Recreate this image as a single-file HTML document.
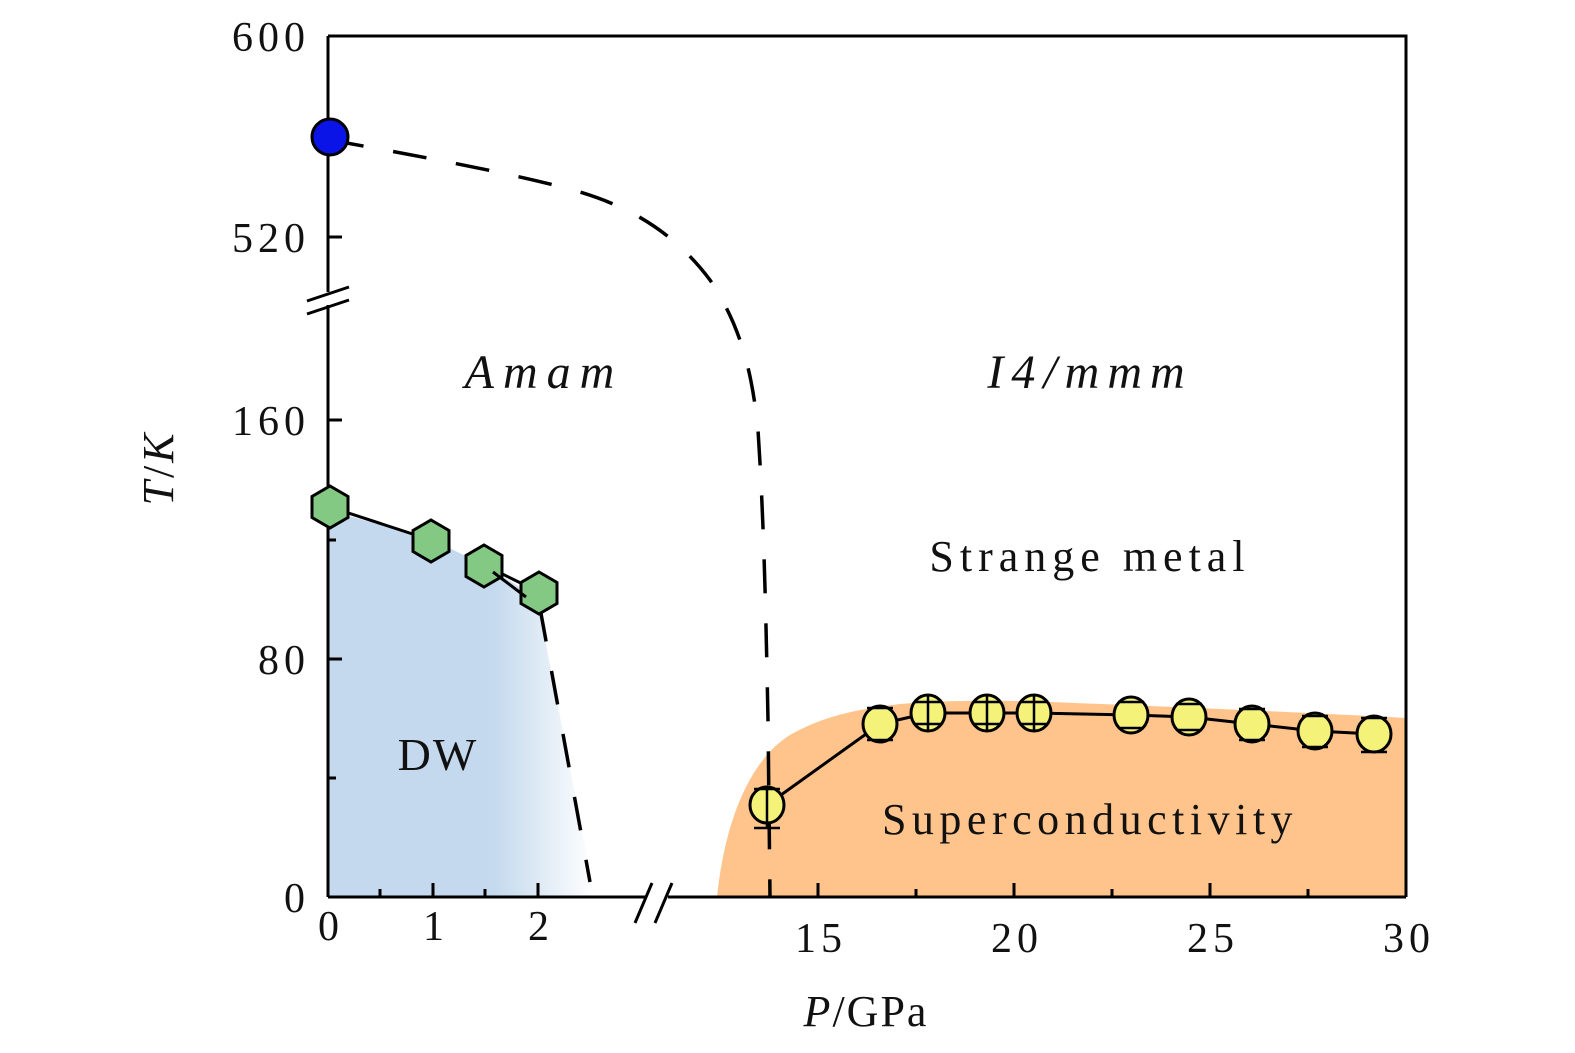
<!DOCTYPE html>
<html><head><meta charset="utf-8"><style>
html,body{margin:0;padding:0;background:#fff}
svg{display:block}
text{font-family:"Liberation Serif","DejaVu Serif",serif;fill:#111}
</style></head><body>
<svg width="1575" height="1053" viewBox="0 0 1575 1053" xmlns="http://www.w3.org/2000/svg">
<defs>
<linearGradient id="bg" x1="328" y1="0" x2="595" y2="0" gradientUnits="userSpaceOnUse">
<stop offset="0" stop-color="#c4d9ed"/><stop offset="0.62" stop-color="#c4d9ed"/><stop offset="1" stop-color="#ffffff"/>
</linearGradient>
</defs>
<path d="M328,897 L328,510 L433,540 L486,566 L537,598 L595,897 Z" fill="url(#bg)"/>
<path d="M717,897 C725,820 750,760 790,735 C820,718 850,710 900,704 C950,700 1000,700 1050,702 C1150,706 1300,712 1406,718 L1406,897 Z" fill="#fec48b"/>
<path d="M330,140 C430,158 520,175 580,192 C640,210 680,240 710,280 C740,325 752,370 758,430 C764,520 766,620 768,720 L770,897" fill="none" stroke="#000" stroke-width="3.5" stroke-dasharray="34,30"/>
<path d="M540,608 L590,882" fill="none" stroke="#000" stroke-width="3.5" stroke-dasharray="34,30"/>
<polyline points="330,507 431,540" fill="none" stroke="#000" stroke-width="3"/>
<polyline points="484,565 537,591" fill="none" stroke="#000" stroke-width="3"/>
<polyline points="767,805 880,724 928,713 987,713 1034,713 1131,715 1189,717 1252,724 1315,731 1374,734" fill="none" stroke="#000" stroke-width="3"/>
<g stroke="#000" stroke-width="3" fill="none">
<path d="M328,36 L1406,36 L1406,897"/>
<path d="M328,36 L328,292 M328,305 L328,897"/>
<path d="M328,897 L645,897 M668,897 L1406,897"/>
<path d="M307,301 L349,287 M307,314 L349,300"/>
<path d="M635,923 L652,883 M655,923 L672,883"/>
<path d="M328,237 L342,237 M328,420 L342,420 M328,540 L336,540 M328,659 L342,659 M328,778 L336,778"/>
<path d="M380,897 L380,889 M433,897 L433,883 M485,897 L485,889 M538,897 L538,883 M818,897 L818,883 M916,897 L916,889 M1014,897 L1014,883 M1112,897 L1112,889 M1210,897 L1210,883 M1308,897 L1308,889"/>
</g>
<circle cx="330" cy="137" r="18" fill="#0a14e6" stroke="#000" stroke-width="3"/>
<g fill="#84c983" stroke="#000" stroke-width="3">
<polygon points="330,486 348,496.5 348,517.5 330,528 312,517.5 312,496.5"/>
<polygon points="431,520 449,530.5 449,551.5 431,562 413,551.5 413,530.5"/>
<polygon points="484,545 502,555.5 502,576.5 484,587 466,576.5 466,555.5"/>
<polygon points="539,572 557,582.5 557,603.5 539,614 521,603.5 521,582.5"/>
</g>
<polyline points="493,572 526,597" fill="none" stroke="#000" stroke-width="3"/>
<g fill="#f5f27a" stroke="#000" stroke-width="3">
<ellipse cx="767" cy="805" rx="17" ry="18"/>
<ellipse cx="880" cy="724" rx="17" ry="18"/>
<ellipse cx="928" cy="713" rx="17" ry="18"/>
<ellipse cx="987" cy="713" rx="17" ry="18"/>
<ellipse cx="1034" cy="713" rx="17" ry="18"/>
<ellipse cx="1131" cy="715" rx="17" ry="18"/>
<ellipse cx="1189" cy="717" rx="17" ry="18"/>
<ellipse cx="1252" cy="724" rx="17" ry="18"/>
<ellipse cx="1315" cy="731" rx="17" ry="18"/>
<ellipse cx="1374" cy="734" rx="17" ry="18"/>
</g>
<g stroke="#000" stroke-width="2.5">
<path d="M754,789 L780,789 M754,828 L780,828 M767,789 L767,828"/>
<path d="M915,702 L941,702 M915,724 L941,724 M928,695 L928,731 M974,702 L1000,702 M974,724 L1000,724 M987,695 L987,731 M1021,702 L1047,702 M1021,724 L1047,724 M1034,695 L1034,731"/>
<path d="M867,708 L893,708 M867,740 L893,740 M1118,702 L1144,702 M1118,728 L1144,728 M1176,704 L1202,704 M1176,730 L1202,730 M1239,709 L1265,709 M1239,740 L1265,740 M1302,716 L1328,716 M1302,747 L1328,747 M1361,718 L1387,718 M1361,752 L1387,752"/>
</g>
<g font-size="42" text-anchor="middle" letter-spacing="5">
<text x="331" y="940">0</text><text x="436" y="940">1</text><text x="541" y="940">2</text>
<text x="821" y="952">15</text><text x="1017" y="952">20</text><text x="1213" y="952">25</text><text x="1409" y="952">30</text>
</g>
<g font-size="42" text-anchor="end" letter-spacing="5">
<text x="310" y="51">600</text><text x="310" y="252">520</text><text x="310" y="435">160</text><text x="310" y="674">80</text><text x="310" y="912">0</text>
</g>
<text x="866" y="1026" font-size="44" text-anchor="middle" letter-spacing="2"><tspan font-style="italic">P</tspan>/GPa</text>
<text transform="translate(173,468) rotate(-90)" font-size="44" text-anchor="middle" letter-spacing="3"><tspan font-style="italic">T</tspan>/<tspan font-style="italic">K</tspan></text>
<text x="544" y="388" font-size="48" font-style="italic" text-anchor="middle" letter-spacing="9">Amam</text>
<text x="1090" y="388" font-size="48" font-style="italic" text-anchor="middle" letter-spacing="8">I4/mmm</text>
<text x="1090" y="571" font-size="44" text-anchor="middle" letter-spacing="6">Strange metal</text>
<text x="1090" y="834" font-size="44" text-anchor="middle" letter-spacing="5.5">Superconductivity</text>
<text x="438" y="770" font-size="46" text-anchor="middle" letter-spacing="2">DW</text>
</svg>
</body></html>
